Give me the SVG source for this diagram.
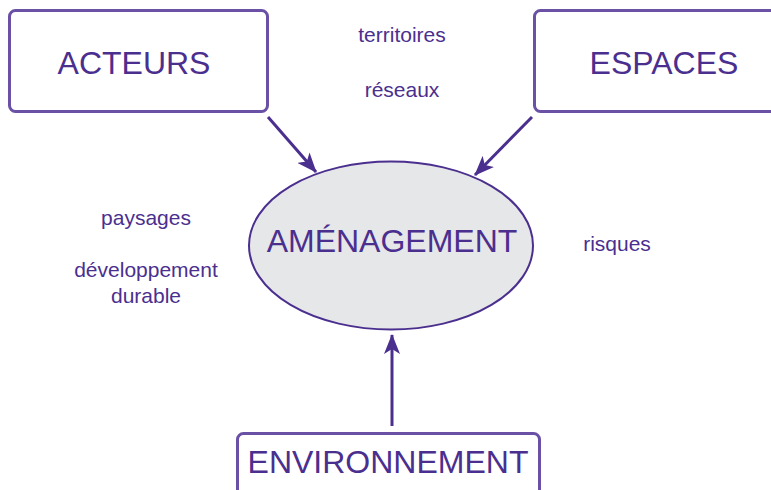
<svg xmlns="http://www.w3.org/2000/svg" width="771" height="490" viewBox="0 0 771 490">
<style>
.box{fill:#ffffff;stroke:#6a51a6;stroke-width:3}
.big{font-family:"Liberation Sans",Arial,sans-serif;font-size:32px;fill:#4b2f8f;text-anchor:middle}
.small{font-family:"Liberation Sans",Arial,sans-serif;font-size:21px;fill:#4b2f8f;text-anchor:middle}
.conn{stroke:#4b2f8f;stroke-width:3;fill:none}
</style>
<defs>
<marker id="ah" viewBox="0 0 20 16" refX="19" refY="8" markerWidth="20" markerHeight="16" markerUnits="userSpaceOnUse" orient="auto">
<path d="M0,0 L20,8 L0,16 L5,8 Z" fill="#4b2f8f"/>
</marker>
</defs>
<rect width="771" height="490" fill="#ffffff"/>
<g id="acteurs">
<rect class="box" x="9.5" y="10.5" width="258" height="101" rx="6"/>
<text class="big" x="134" y="74">ACTEURS</text>
</g>
<g id="espaces">
<rect class="box" x="534.5" y="10.5" width="250" height="101" rx="6"/>
<text class="big" x="664" y="74">ESPACES</text>
</g>
<g id="environnement">
<rect class="box" x="237.5" y="433.5" width="302" height="70" rx="6"/>
<text class="big" x="388" y="473">ENVIRONNEMENT</text>
</g>
<g id="amenagement">
<ellipse cx="391" cy="245.5" rx="142" ry="84" fill="#e6e7e8" stroke="#4b2f8f" stroke-width="2"/>
<text class="big" x="392" y="252">AMÉNAGEMENT</text>
</g>
<g id="labels">
<text class="small" x="402" y="42">territoires</text>
<text class="small" x="402" y="97">réseaux</text>
<text class="small" x="146" y="225">paysages</text>
<text class="small" x="146" y="277">développement</text>
<text class="small" x="146" y="303">durable</text>
<text class="small" x="617" y="251">risques</text>
</g>
<g id="connectors">
<line class="conn" x1="268" y1="117" x2="316" y2="172" marker-end="url(#ah)"/>
<line class="conn" x1="532" y1="117" x2="475" y2="175" marker-end="url(#ah)"/>
<line class="conn" x1="392" y1="426" x2="392" y2="335" marker-end="url(#ah)"/>
</g>
</svg>
